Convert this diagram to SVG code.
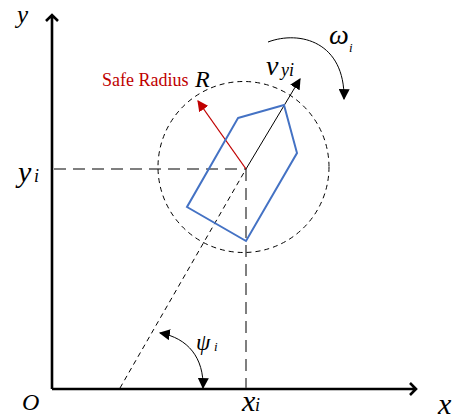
<svg xmlns="http://www.w3.org/2000/svg" width="452" height="420" viewBox="0 0 452 420">
<style>
.axis{stroke:#000;stroke-width:2.6;fill:none}
.guide{stroke:#555;stroke-width:1.5;stroke-dasharray:12 7;fill:none}
.thin{stroke:#000;stroke-width:1;stroke-dasharray:5 4;fill:none}
</style>
<defs>
<marker id="tri" viewBox="0 0 10 10" refX="9" refY="5" markerWidth="11" markerHeight="11" markerUnits="userSpaceOnUse" orient="auto-start-reverse">
<path d="M0,0 L10,5 L0,10 z" fill="#000"/>
</marker>
<marker id="triR" viewBox="0 0 10 10" refX="9" refY="5" markerWidth="11" markerHeight="11" markerUnits="userSpaceOnUse" orient="auto">
<path d="M0,0 L10,5 L0,10 z" fill="#c00000"/>
</marker>
</defs>
<g id="axes">
<path class="axis" d="M52,389 V15 M46,21 L52,15 L58,21"/>
<path class="axis" d="M52,389 H416 M410,383 L416,389 L410,395"/>
</g>
<g id="connectors">
<path class="guide" d="M54,169 H246"/>
<path class="guide" d="M246,169 V388"/>
<path class="thin" d="M120,388 L246,169"/>
<circle class="thin" cx="243.5" cy="167" r="85.5" stroke-dasharray="5 3"/>
<line x1="246" y1="169" x2="300" y2="79" stroke="#000" stroke-width="1" marker-end="url(#tri)"/>
<line x1="246" y1="169" x2="198" y2="101" stroke="#c00000" stroke-width="1.3" marker-end="url(#triR)"/>
<path d="M160,333 C188,338 204,358 203,388" fill="none" stroke="#000" stroke-width="1" marker-start="url(#tri)" marker-end="url(#tri)"/>
<path d="M268,42 C300,30 345,42 344,99" fill="none" stroke="#000" stroke-width="1" marker-end="url(#tri)"/>
</g>
<g id="vessel">
<polygon points="238,118 284,105 297,153 246,241 187,207" fill="none" stroke="#4472c4" stroke-width="2"/>
</g>
<g id="labels" font-family="Liberation Serif, Times New Roman, serif" font-style="italic" fill="#000">
<text x="17" y="23" font-size="25">y</text>
<text x="18" y="182" font-size="30">y</text>
<text x="34" y="182" font-size="18">i</text>
<text x="22" y="410" font-size="24">O</text>
<text x="242" y="411" font-size="30">x</text>
<text x="255" y="411" font-size="18">i</text>
<text x="438" y="414" font-size="30">x</text>
<text x="196" y="350" font-size="23">ψ</text>
<text x="214" y="351" font-size="13">i</text>
<text x="329" y="44" font-size="28">ω</text>
<text x="349" y="52" font-size="13">i</text>
<text x="266" y="75" font-size="28">v</text>
<text x="281" y="76" font-size="18">yi</text>
<text x="195" y="87" font-size="24">R</text>
<text x="102" y="86" font-size="18" font-style="normal" fill="#c00000">Safe Radius</text>
</g>
</svg>
